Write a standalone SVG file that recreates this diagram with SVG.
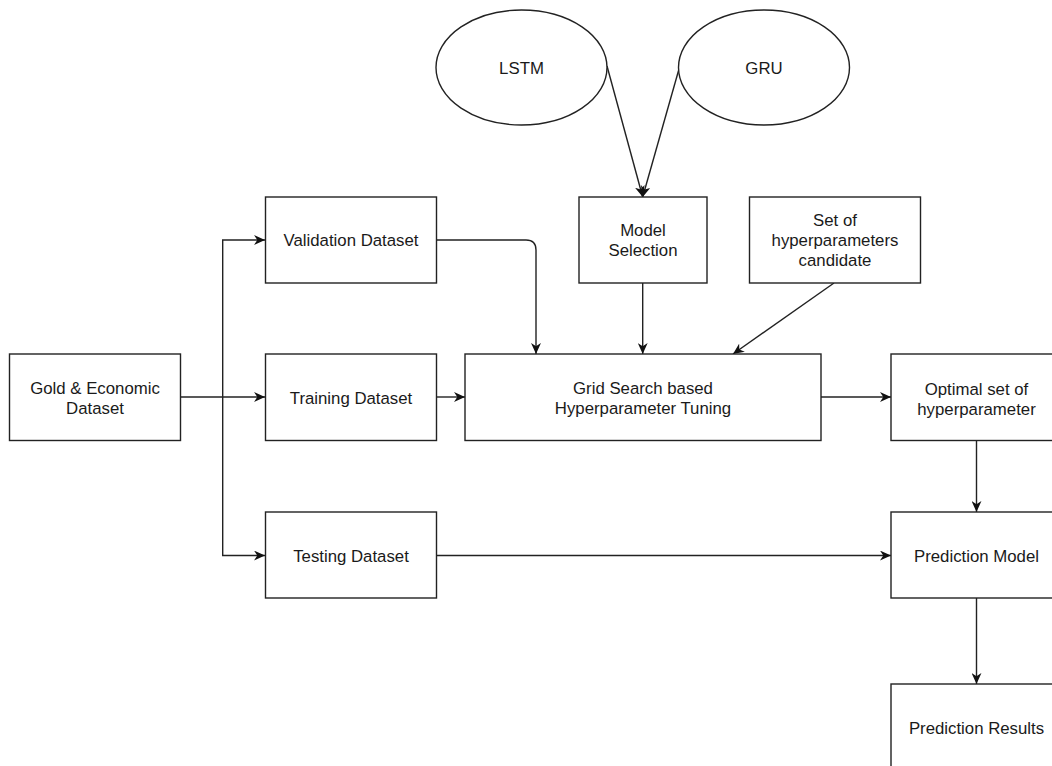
<svg xmlns="http://www.w3.org/2000/svg" width="1052" height="766" viewBox="0 0 1052 766">
<style>
  .box { fill: #ffffff; stroke: #222222; stroke-width: 1.4; }
  .lbl { font-family: "Liberation Sans", Arial, sans-serif; font-size: 16.8px; fill: #1a1a1a; text-anchor: middle; }
  .edge { fill: none; stroke: #222222; stroke-width: 1.4; marker-end: url(#arrow); }
</style>
<defs>
  <marker id="arrow" viewBox="0 0 10 9" refX="10" refY="4.5" markerWidth="11" markerHeight="10" markerUnits="userSpaceOnUse" orient="auto">
    <path d="M0,0 L10,4.5 L0,9 L3,4.5 z" fill="#111111"/>
  </marker>
</defs>
<rect width="1052" height="766" fill="#ffffff"/>

<g id="connectors">
  <path class="edge" d="M607,66 L642.7,197"/>
  <path class="edge" d="M679,69 L642.7,197"/>
  <path class="edge" d="M180,397 L265,397"/>
  <path class="edge" d="M222.7,397 L222.7,250 Q222.7,240 222.7,240 L265,240"/>
  <path class="edge" d="M222.7,397 L222.7,555.5 L265,555.5"/>
  <path class="edge" d="M437,240 L526,240 Q536,240 536,250 L536,354"/>
  <path class="edge" d="M642.7,283 L642.7,354"/>
  <path class="edge" d="M834,283 L733,354"/>
  <path class="edge" d="M437,397 L465,397"/>
  <path class="edge" d="M821,397 L891,397"/>
  <path class="edge" d="M437,555.5 L891,555.5"/>
  <path class="edge" d="M976.5,440 L976.5,512"/>
  <path class="edge" d="M976.5,598 L976.5,684"/>
</g>

<g id="lstm">
  <ellipse class="box" cx="521.5" cy="67.5" rx="85.5" ry="57.5"/>
  <text class="lbl" x="521.5" y="73.5">LSTM</text>
</g>
<g id="gru">
  <ellipse class="box" cx="764" cy="67.5" rx="85.5" ry="57.5"/>
  <text class="lbl" x="764" y="73.5">GRU</text>
</g>
<g id="gold">
  <rect class="box" x="9.5" y="354" width="171" height="86.5"/>
  <text class="lbl" x="95" y="394">Gold &amp; Economic</text>
  <text class="lbl" x="95" y="414">Dataset</text>
</g>
<g id="validation">
  <rect class="box" x="265.5" y="197" width="171" height="86"/>
  <text class="lbl" x="351" y="246">Validation Dataset</text>
</g>
<g id="training">
  <rect class="box" x="265.5" y="354" width="171" height="86.5"/>
  <text class="lbl" x="351" y="403.5">Training Dataset</text>
</g>
<g id="testing">
  <rect class="box" x="265.5" y="512" width="171" height="86"/>
  <text class="lbl" x="351" y="561.5">Testing Dataset</text>
</g>
<g id="model-selection">
  <rect class="box" x="579" y="197" width="128" height="86"/>
  <text class="lbl" x="643" y="236">Model</text>
  <text class="lbl" x="643" y="256">Selection</text>
</g>
<g id="hyper-candidates">
  <rect class="box" x="749.5" y="197" width="171" height="86"/>
  <text class="lbl" x="835" y="226">Set of</text>
  <text class="lbl" x="835" y="246">hyperparameters</text>
  <text class="lbl" x="835" y="266">candidate</text>
</g>
<g id="grid-search">
  <rect class="box" x="465" y="354" width="356" height="86.5"/>
  <text class="lbl" x="643" y="394">Grid Search based</text>
  <text class="lbl" x="643" y="414">Hyperparameter Tuning</text>
</g>
<g id="optimal">
  <rect class="box" x="891" y="354" width="171" height="86.5"/>
  <text class="lbl" x="976.5" y="394.5">Optimal set of</text>
  <text class="lbl" x="976.5" y="414.5">hyperparameter</text>
</g>
<g id="prediction-model">
  <rect class="box" x="891" y="512" width="171" height="86"/>
  <text class="lbl" x="976.5" y="561.5">Prediction Model</text>
</g>
<g id="prediction-results">
  <rect class="box" x="891" y="684" width="171" height="100"/>
  <text class="lbl" x="976.5" y="733.5">Prediction Results</text>
</g>
</svg>
